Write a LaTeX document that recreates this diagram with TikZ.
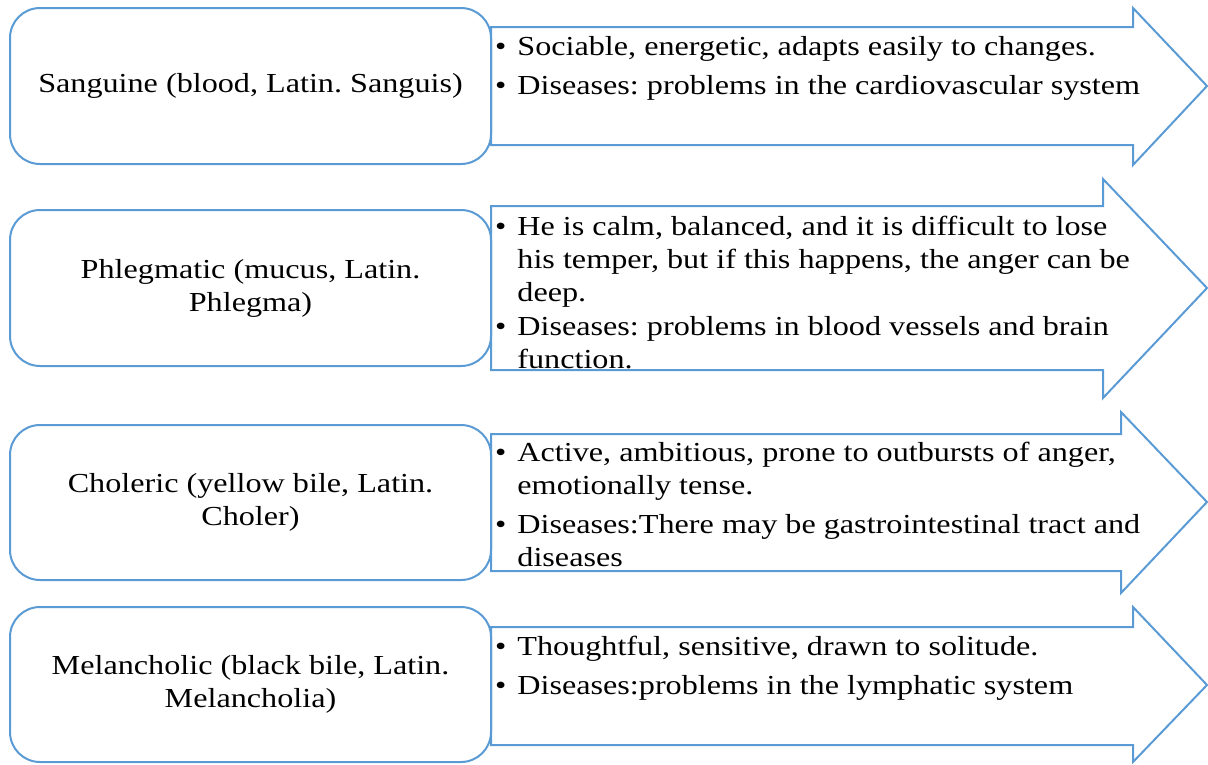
\documentclass[tikz,border=0pt]{standalone}
\usepackage{fontspec}
\usepackage{graphicx}
\setmainfont{Liberation Serif}
\usetikzlibrary{calc}
\definecolor{officeblue}{RGB}{91,155,213}
\frenchspacing
\newcommand\itemdot{\makebox[19pt][l]{\textbullet}}
\newcommand\widetext[2]{\scalebox{1.17}[1]{\begin{tabular}[t]{@{}#1@{}}#2\end{tabular}}}
\tikzset{
  tempbox/.style={draw=officeblue, line width=2pt, rounded corners=30pt, fill=white,
    minimum width=481pt, inner sep=0pt, align=center,
    font=\fontsize{27.5}{33}\selectfont},
  traitarrow/.style={draw=officeblue, line width=2pt, line join=miter},
  traittext/.style={anchor=base west, inner sep=0pt, font=\fontsize{27.5}{33}\selectfont}
}
\begin{document}
\begin{tikzpicture}[x=1pt,y=-1pt]
\useasboundingbox (0,0) rectangle (1208,764);
% arrows behind the boxes
\draw[traitarrow] (491,27)--(1133,27)--(1133,8)--(1207,86)--(1133,165)--(1133,145)--(491,145)--cycle;
\draw[traitarrow] (491,206)--(1103,206)--(1103,179)--(1207,288)--(1103,398)--(1103,370)--(491,370)--cycle;
\draw[traitarrow] (491,434)--(1121,434)--(1121,412)--(1207,502)--(1121,593)--(1121,571)--(491,571)--cycle;
\draw[traitarrow] (491,627)--(1133,627)--(1133,607)--(1207,685)--(1133,762)--(1133,745)--(491,745)--cycle;
% temperaments
\node[tempbox, minimum height=156pt] (sang) at (250.5,86) {\widetext{c}{Sanguine (blood, Latin. Sanguis)}};
\node[tempbox, minimum height=156pt] (phleg) at (250.5,288) {\widetext{c}{Phlegmatic (mucus, Latin.\\Phlegma)}};
\node[tempbox, minimum height=155pt] (chol) at (250.5,502.5) {\widetext{c}{Choleric (yellow bile, Latin.\\Choler)}};
\node[tempbox, minimum height=155pt] (mel) at (250.5,684.5) {\widetext{c}{Melancholic (black bile, Latin.\\Melancholia)}};
% traits
\node[traittext] (sangtxt) at (495,55) {\widetext{l@{}l}{
\itemdot & Sociable, energetic, adapts easily to changes.\\[6pt]
\itemdot & Diseases: problems in the cardiovascular system}};
\node[traittext] (phlegtxt) at (495,235) {\widetext{l@{}l}{
\itemdot & He is calm, balanced, and it is difficult to lose\\
 & his temper, but if this happens, the anger can be\\
 & deep.\\[1pt]
\itemdot & Diseases: problems in blood vessels and brain\\
 & function.}};
\node[traittext] (choltxt) at (495,461) {\widetext{l@{}l}{
\itemdot & Active, ambitious, prone to outbursts of anger,\\
 & emotionally tense.\\[6pt]
\itemdot & Diseases:There may be gastrointestinal tract and\\
 & diseases}};
\node[traittext] (meltxt) at (495,655) {\widetext{l@{}l}{
\itemdot & Thoughtful, sensitive, drawn to solitude.\\[6pt]
\itemdot & Diseases:problems in the lymphatic system}};
\end{tikzpicture}
\end{document}
